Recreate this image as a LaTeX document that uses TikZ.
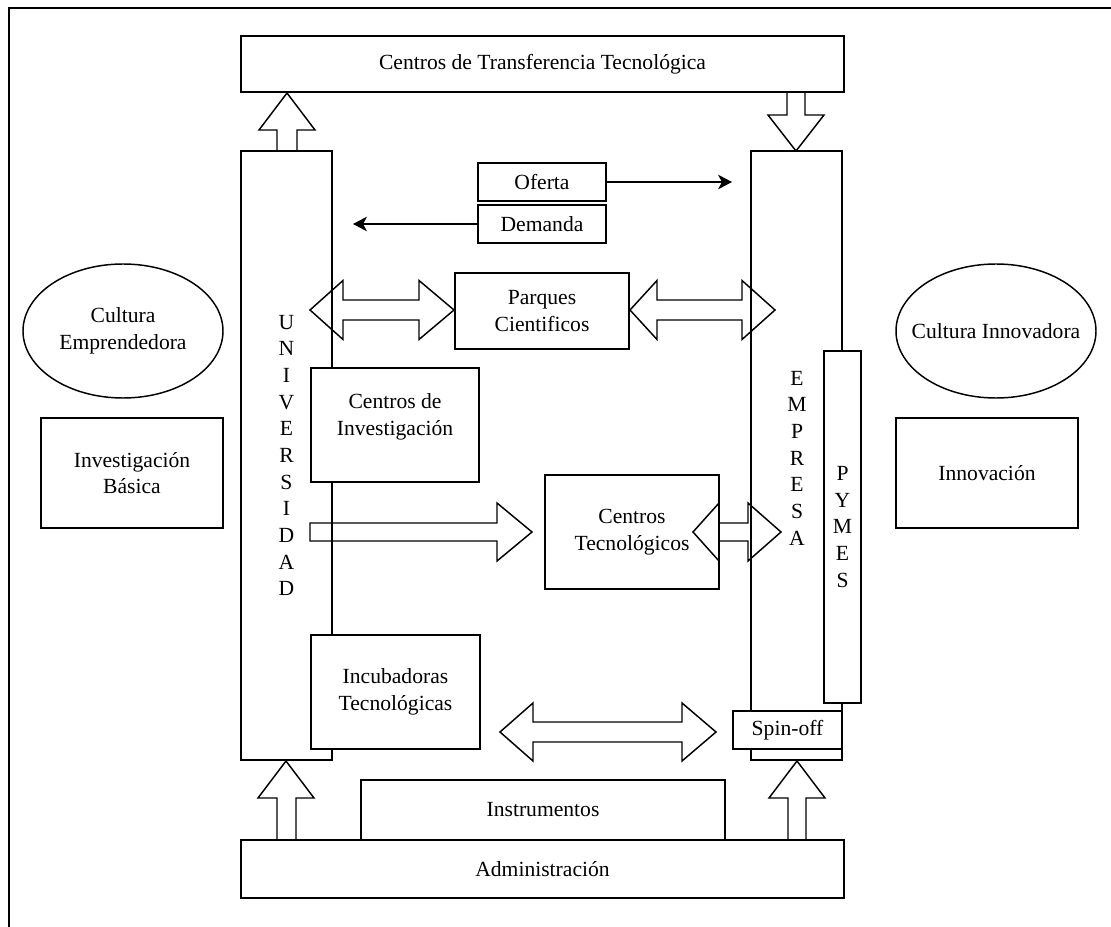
\documentclass[tikz,border=0pt]{standalone}
\usepackage{fontspec}
\setmainfont{Liberation Serif}
\usetikzlibrary{arrows.meta,fit}

\begin{document}
\begin{tikzpicture}[x=0.75pt, y=-0.75pt,
  every node/.style={font=\fontsize{16.2pt}{20pt}\selectfont},
  box/.style={draw, fill=white, inner sep=0pt, line width=1.1pt},
  txt/.style={align=center, inner sep=0pt},
  oval/.style={draw, line width=1.1pt},
  blk/.style={draw, line width=1.1pt, line join=miter},
  thin/.style={line width=1.1pt, -{Stealth[length=10.5pt, width=11pt, inset=3pt]}}
]
\useasboundingbox (0,0) rectangle (1111,927);

% frame
\draw[line width=1.5pt] (9,927) -- (9,8) -- (1111,8);

% main columns
\node[box, fit={(241,151) (332,760)}] (univ) {};
\node[txt] (univtxt) at (univ.center) {U\\N\\I\\V\\E\\R\\S\\I\\D\\A\\D};
\node[box, fit={(751,151) (842,760)}] (emp) {};
\node[txt] (emptxt) at (797,458) {E\\M\\P\\R\\E\\S\\A};

% top and bottom bars
\node[box, fit={(241,36) (844,92)}] (ctt) {};
\node[txt] (ctttxt) at (ctt.center) {Centros de Transferencia Tecnológica};
\node[box, fit={(361,780) (725,840)}] (instr) {};
\node[txt] (instrtxt) at (instr.center) {Instrumentos};
\node[box, fit={(241,840) (844,898)}] (adm) {};
\node[txt] (admtxt) at (adm.center) {Administración};

% side elements
\node[txt] (cemp) at (123,331) {Cultura\\Emprendedora};
\draw[oval] (cemp.center) ellipse [x radius=100, y radius=67];
\node[box, fit={(41,418) (223,528)}] (ibas) {};
\node[txt] (ibastxt) at (ibas.center) {Investigación\\Básica};
\node[txt] (cinn) at (996,331) {Cultura Innovadora};
\draw[oval] (cinn.center) ellipse [x radius=100, y radius=67];
\node[box, fit={(896,418) (1078,528)}] (innov) {};
\node[txt] (innovtxt) at (innov.center) {Innovación};

% inner boxes
\node[box, fit={(478,163) (606,201)}] (oferta) {};
\node[txt] (ofertatxt) at (oferta.center) {Oferta};
\node[box, fit={(478,205) (606,243)}] (demanda) {};
\node[txt] (demandatxt) at (demanda.center) {Demanda};
\node[box, fit={(455,273) (629,349)}] (parques) {};
\node[txt] (parquestxt) at (parques.center) {Parques\\Cientificos};
\node[box, fit={(311,368) (479,482)}] (cinv) {};
\node[txt] (cinvtxt) at ([yshift=6pt]cinv.center) {Centros de\\Investigación};
\node[box, fit={(545,475) (719,589)}] (ctec) {};
\node[txt] (ctectxt) at (ctec.center) {Centros\\Tecnológicos};
\node[box, fit={(311,635) (480,749)}] (incub) {};
\node[txt] (incubtxt) at (incub.center) {Incubadoras\\Tecnológicas};
\node[box, fit={(824,351) (861,703)}] (pymes) {};
\node[txt] (pymestxt) at (pymes.center) {P\\Y\\M\\E\\S};
\node[box, fit={(733,711) (842,749)}] (spin) {};
\node[txt] (spintxt) at (spin.center) {Spin-off};

% offer / demand arrows
\coordinate (ofEnd) at (732,182);
\coordinate (deEnd) at (353,224);
\draw[thin] (oferta.east) -- (ofEnd);
\draw[thin] (demanda.west) -- (deEnd);

% vertical block arrows
\draw[blk] (277,151) -- (277,130) -- (259,130) -- (287,93) -- (315,130) -- (297,130) -- (297,151);
\draw[blk] (787,92) -- (787,115) -- (768,115) -- (796,151) -- (824,115) -- (805,115) -- (805,92);
\draw[blk] (277,840) -- (277,798) -- (258,798) -- (286,761) -- (314,798) -- (296,798) -- (296,840);
\draw[blk] (788,840) -- (788,798) -- (769,798) -- (797,761) -- (825,798) -- (806,798) -- (806,840);

% horizontal double block arrows around Parques
\draw[blk] (310,310) -- (343,280.5) -- (343,300) -- (419,300) -- (419,280.5) -- (454,310)
  -- (419,339.5) -- (419,320) -- (343,320) -- (343,339.5) -- cycle;
\draw[blk] (630,310) -- (657,280.5) -- (657,300) -- (742,300) -- (742,280.5) -- (775,310)
  -- (742,339.5) -- (742,320) -- (657,320) -- (657,339.5) -- cycle;

% arrow into Centros Tecnologicos
\draw[blk] (310,523) -- (497,523) -- (497,503) -- (532,532) -- (497,561) -- (497,541) -- (310,541) -- cycle;
\draw[blk] (693,532) -- (719,503) -- (719,523) -- (748,523) -- (748,503) -- (781,532)
  -- (748,561) -- (748,541) -- (719,541) -- (719,561) -- cycle;

% arrow between Incubadoras and Spin-off
\draw[blk] (500,732) -- (533,703) -- (533,722) -- (682,722) -- (682,703) -- (716,732)
  -- (682,761) -- (682,742) -- (533,742) -- (533,761) -- cycle;

\end{tikzpicture}
\end{document}
